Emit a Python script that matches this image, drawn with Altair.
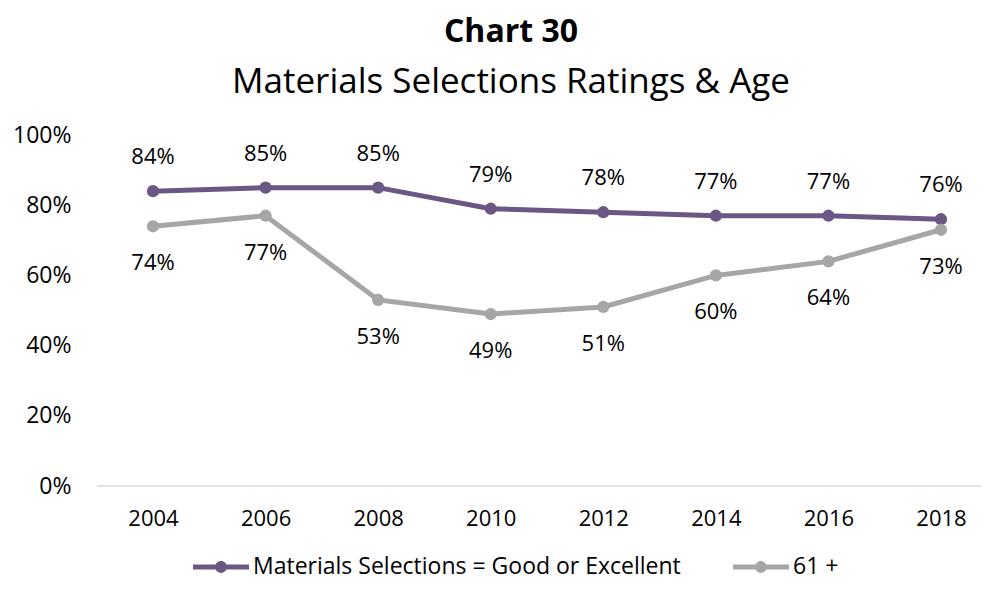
import altair as alt
import pandas as pd

years = ["2004", "2006", "2008", "2010", "2012", "2014", "2016", "2018"]
materials_good = [84, 85, 85, 79, 78, 77, 77, 76]
age_61_plus = [74, 77, 53, 49, 51, 60, 64, 73]
series_names = ["Materials Selections = Good or Excellent", "61 +"]
series_colors = ["#6B5783", "#A6A6A6"]
y_ticks = [0, 0.2, 0.4, 0.6, 0.8, 1.0]

rows = []
for s, vals in zip(series_names, [materials_good, age_61_plus]):
    for y, v in zip(years, vals):
        rows.append({"year": y, "value": v / 100, "series": s})
df = pd.DataFrame(rows)

FONT = "Open Sans"
W, H = 884, 351

legend_path = ("M-1,-0.09 L1,-0.09 L1,0.09 L-1,0.09 Z "
               "M-0.21,0 A0.21,0.21 0 1,1 0.21,0 A0.21,0.21 0 1,1 -0.21,0 Z")

x = alt.X("year:O", sort=years,
          scale=alt.Scale(type="point", range=[56, 844], padding=0),
          axis=alt.Axis(title=None, labelAngle=0, ticks=False, domain=False,
                        labelFontSize=22, labelPadding=22, labelColor="#000000",
                        labelFont=FONT))
y = alt.Y("value:Q",
          scale=alt.Scale(domain=[0, 1], nice=False),
          axis=alt.Axis(title=None, values=y_ticks, format=".0%", ticks=False,
                        domain=False, labelFontSize=23, labelPadding=26,
                        labelColor="#000000", labelFont=FONT, grid=False))
color = alt.Color("series:N",
                  scale=alt.Scale(domain=series_names, range=series_colors),
                  legend=alt.Legend(title=None, orient="none", direction="horizontal",
                                    legendX=96, legendY=404,
                                    symbolType=legend_path, symbolSize=3136,
                                    symbolStrokeWidth=0, labelLimit=0,
                                    labelFontSize=23, labelFont=FONT,
                                    labelColor="#000000", labelOffset=4,
                                    columnPadding=52))

base = alt.Chart(df).encode(x=x, y=y, color=color)

baseline = alt.Chart(pd.DataFrame({"v": [0]})).mark_rule(
    color="#D9D9D9", strokeWidth=1.5
).encode(y=alt.Y("v:Q"), x=alt.value(0), x2=alt.value(W))

lines = base.mark_line(strokeWidth=5)
points = base.mark_point(filled=True, size=150, opacity=1)

labels_top = base.transform_filter(
    alt.datum.series == series_names[0]
).mark_text(dy=-34, fontSize=22, font=FONT).encode(
    text=alt.Text("value:Q", format=".0%"), color=alt.value("#000000"))
labels_bot = base.transform_filter(
    alt.datum.series == series_names[1]
).mark_text(dy=37, fontSize=22, font=FONT).encode(
    text=alt.Text("value:Q", format=".0%"), color=alt.value("#000000"))

chart = alt.layer(baseline, lines, points, labels_top, labels_bot).properties(
    width=W, height=H,
    autosize=alt.AutoSizeParams(type="none"),
    padding={"left": 89, "top": 127, "right": 0, "bottom": 96},
    title=alt.TitleParams(
        text="Chart 30",
        subtitle="Materials Selections Ratings & Age",
        anchor="middle", frame="group", dx=-28,
        font=FONT, fontSize=32, fontWeight="bold", color="#000000",
        subtitleFont=FONT, subtitleFontSize=35, subtitleColor="#000000",
        subtitlePadding=16, offset=23,
    ),
).configure_view(stroke=None)

chart.save("out.html", embed_options={"renderer": "svg", "actions": False})
